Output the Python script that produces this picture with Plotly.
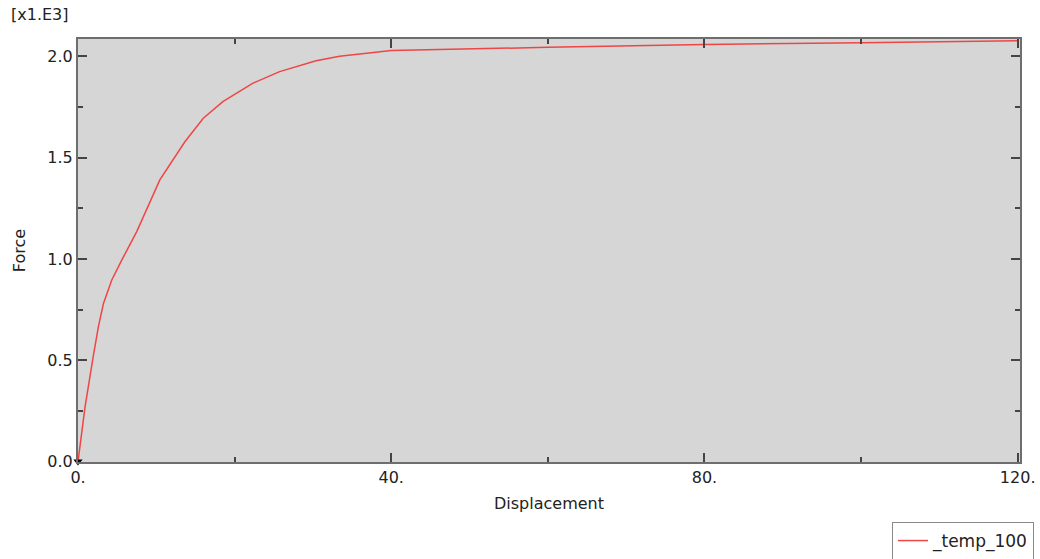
import plotly.graph_objects as go

disp = [0, 0.9, 1.95, 2.6, 3.25, 4.3, 5.6, 7.5, 10.45, 13.65, 16.0, 18.5, 22.35,
        25.75, 30.4, 33.4, 36.0, 40, 60, 80, 100, 120]
force = [0, 0.27, 0.52, 0.665, 0.78, 0.895, 0.995, 1.135, 1.39, 1.578, 1.694, 1.776,
         1.867, 1.924, 1.978, 2.0, 2.011, 2.028, 2.044, 2.058, 2.067, 2.076]

x_ticks = [0, 40, 80, 120]
x_ticktext = ["0.", "40.", "80.", "120."]
x_minor = [20, 60, 100]
y_ticks = [0.0, 0.5, 1.0, 1.5, 2.0]
y_ticktext = ["0.0", "0.5", "1.0", "1.5", "2.0"]
y_minor = [0.25, 0.75, 1.25, 1.75]

FONT = "DejaVu Sans"
AX = "#6e6e6e"

fig = go.Figure()
fig.add_trace(go.Scatter(
    x=disp, y=force, mode="lines", name="_temp_100",
    line=dict(color="#f04545", width=1.5),
))
fig.add_trace(go.Scatter(
    x=disp[:1], y=force[:1], mode="markers", showlegend=False,
    marker=dict(symbol="triangle-down", size=8, color="black"),
    cliponaxis=False,
))

axis_common = dict(
    showgrid=False, zeroline=False, showline=True, linecolor=AX, linewidth=2,
    mirror="allticks", ticks="inside", ticklen=9, tickcolor="#444", tickwidth=1.5,
    tickfont=dict(family=FONT, size=16, color="#222"),
)

fig.update_xaxes(
    range=[0, 120.3], tickvals=x_ticks, ticktext=x_ticktext,
    minor=dict(tickvals=x_minor, ticks="inside", ticklen=5, tickcolor="#444"),
    title=dict(text="Displacement", font=dict(family=FONT, size=16, color="#222"), standoff=12),
    **axis_common,
)
fig.update_yaxes(
    range=[-0.002, 2.085], tickvals=y_ticks, ticktext=y_ticktext,
    minor=dict(tickvals=y_minor, ticks="inside", ticklen=5, tickcolor="#444"),
    title=dict(text="Force", font=dict(family=FONT, size=16, color="#222"), standoff=18),
    **axis_common,
)

fig.add_annotation(
    text="[x1.E3]", xref="paper", yref="paper", x=-0.073, y=1.03,
    xanchor="left", yanchor="bottom", showarrow=False,
    font=dict(family=FONT, size=16, color="#222"),
)

fig.update_layout(
    width=1040, height=559,
    margin=dict(l=78, r=20, t=39, b=97, autoexpand=False),
    plot_bgcolor="#d6d6d6", paper_bgcolor="white",
    showlegend=True,
    legend=dict(
        xref="container", yref="container",
        x=892 / 1040, y=1 - 522 / 559, xanchor="left", yanchor="top",
        bordercolor="#888", borderwidth=1, bgcolor="white",
        font=dict(family=FONT, size=17, color="#222"),
    ),
)

fig.write_html("out.html")
